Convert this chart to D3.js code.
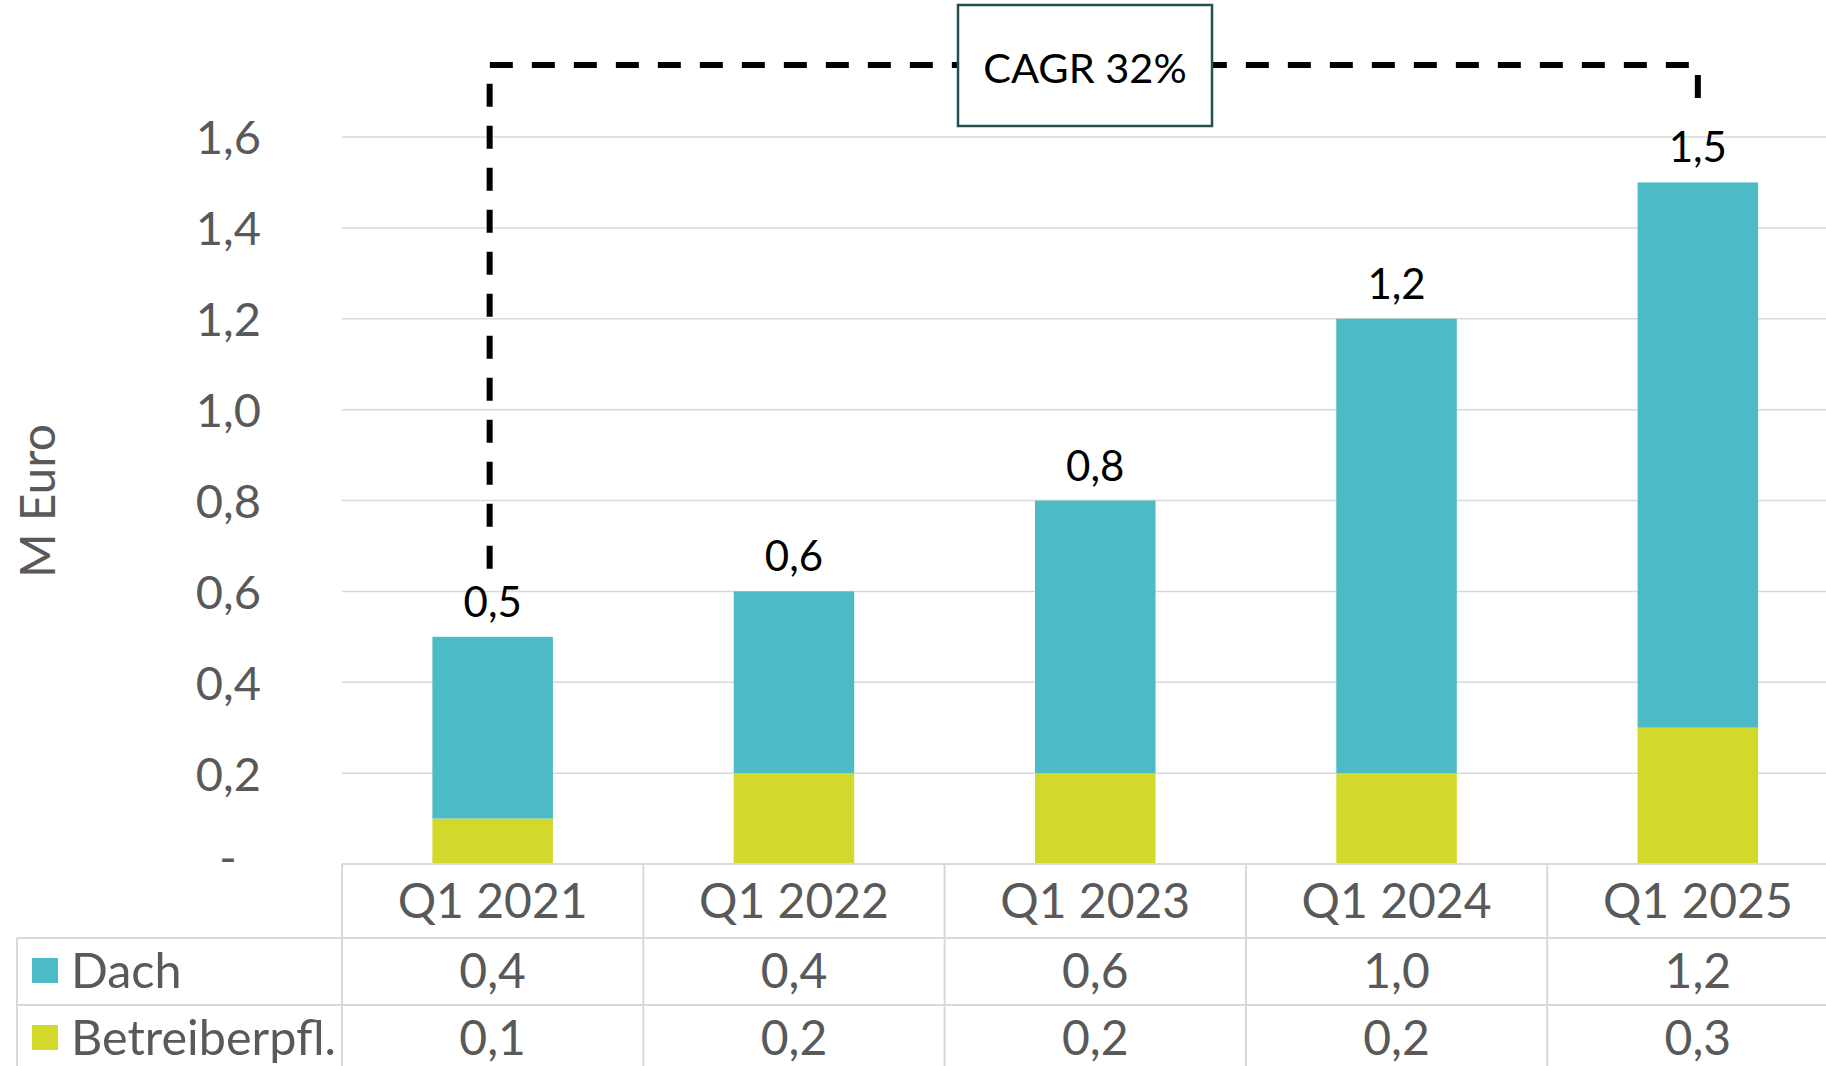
<!DOCTYPE html>
<html>
<head>
<meta charset="utf-8">
<script src="https://cdn.jsdelivr.net/npm/d3@7"></script>
<style>
  body { margin: 0; background: #fff; }
  svg { display: block; font-family: Lato, "Open Sans", sans-serif; }
</style>
</head>
<body>
<svg id="chart" width="1826" height="1066"></svg>
<script>
// Daten
const categories = ["Q1 2021", "Q1 2022", "Q1 2023", "Q1 2024", "Q1 2025"];
const dach = [0.4, 0.4, 0.6, 1.0, 1.2];
const betreiber = [0.1, 0.2, 0.2, 0.2, 0.3];
const totals = [0.5, 0.6, 0.8, 1.2, 1.5];
const seriesNames = ["Dach", "Betreiberpfl."];
const yTicks = [0, 0.2, 0.4, 0.6, 0.8, 1.0, 1.2, 1.4, 1.6];
const cagrLabel = "CAGR 32%";

const colors = { "Dach": "#4cbbc5", "Betreiberpfl.": "#d3d92b" };
const grey = "#595959";
const lineGrey = "#d9d9d9";

const svg = d3.select("#chart");

const left = 342, zeroY = 864;
const x = d3.scaleBand().domain(categories).range([left, 1848.5]).paddingInner(0.6).paddingOuter(0.3);
const y = d3.scaleLinear().domain([0, 1.6]).range([zeroY, 137]);

const loc = d3.formatLocale({ decimal: ",", thousands: ".", grouping: [3], currency: ["", " €"] });
const fmt = loc.format(".1f");

// gridlines
svg.append("g")
  .selectAll("line")
  .data(yTicks.filter((d) => d > 0))
  .enter()
  .append("line")
  .attr("x1", left)
  .attr("x2", 1826)
  .attr("y1", (d) => y(d))
  .attr("y2", (d) => y(d))
  .attr("stroke", lineGrey)
  .attr("stroke-width", 1.5);

// y axis labels
const yAxis = svg.append("g")
  .attr("transform", "translate(261,0)")
  .call(d3.axisLeft(y).tickValues(yTicks).tickSize(0).tickPadding(0).tickFormat((d) => (d === 0 ? "-" : fmt(d))));
yAxis.select(".domain").remove();
yAxis.selectAll("text")
  .attr("font-family", "Lato")
  .attr("font-size", 47)
  .attr("fill", grey)
  .attr("dy", "0.36em");
yAxis.selectAll(".tick")
  .filter((d) => d === 0)
  .select("text")
  .attr("x", -33)
  .attr("text-anchor", "middle")
  .attr("dy", "0.2em");

svg.append("text")
  .attr("transform", "translate(36,501) rotate(-90)")
  .attr("text-anchor", "middle")
  .attr("dominant-baseline", "central")
  .attr("font-size", 48)
  .attr("fill", grey)
  .text("M Euro");

// stacked bars
const rows = categories.map((c, i) => ({ cat: c, "Betreiberpfl.": betreiber[i], "Dach": dach[i] }));
const stack = d3.stack().keys(["Betreiberpfl.", "Dach"])(rows);

svg.append("g")
  .selectAll("g")
  .data(stack)
  .enter()
  .append("g")
  .attr("fill", (d) => colors[d.key])
  .selectAll("rect")
  .data((d) => d)
  .enter()
  .append("rect")
  .attr("x", (d) => x(d.data.cat))
  .attr("width", x.bandwidth())
  .attr("y", (d) => y(d[1]))
  .attr("height", (d) => y(d[0]) - y(d[1]));

// total labels
svg.append("g")
  .selectAll("text")
  .data(categories)
  .enter()
  .append("text")
  .attr("x", (d) => x(d) + x.bandwidth() / 2)
  .attr("y", (d, i) => y(totals[i]) - 20)
  .attr("text-anchor", "middle")
  .attr("font-size", 42)
  .attr("fill", "#000")
  .text((d, i) => fmt(totals[i]));

// CAGR bracket
const x0 = x(categories[0]) + x.bandwidth() / 2 - 3;
const x1 = x(categories[4]) + x.bandwidth() / 2;
const topY = 65;
svg.append("path")
  .attr("d", `M${x0},${y(totals[0]) - 68} L${x0},${topY} L${x1},${topY} L${x1},${y(totals[4]) - 80}`)
  .attr("fill", "none")
  .attr("stroke", "#000")
  .attr("stroke-width", 6)
  .attr("stroke-dasharray", "23,19");

svg.append("rect")
  .attr("x", 958)
  .attr("y", 5)
  .attr("width", 254)
  .attr("height", 121)
  .attr("fill", "#fff")
  .attr("stroke", "#24504f")
  .attr("stroke-width", 2.5);
svg.append("text")
  .attr("x", 1085)
  .attr("y", 67)
  .attr("text-anchor", "middle")
  .attr("dominant-baseline", "central")
  .attr("font-size", 41.5)
  .attr("fill", "#000")
  .text(cagrLabel);

// data table
const rowLines = [zeroY, 938, 1005, 1072];
const table = svg.append("g").attr("stroke", lineGrey).attr("stroke-width", 2);
table.append("line").attr("x1", left).attr("x2", 1826).attr("y1", zeroY).attr("y2", zeroY);
rowLines.slice(1).forEach((ly) => {
  table.append("line").attr("x1", 17).attr("x2", 1826).attr("y1", ly).attr("y2", ly);
});
table.append("line").attr("x1", 17).attr("x2", 17).attr("y1", 938).attr("y2", 1072);
categories.forEach((c) => {
  table.append("line").attr("x1", x(c) - x.step() * 0.3).attr("x2", x(c) - x.step() * 0.3).attr("y1", zeroY).attr("y2", 1072);
});

svg.append("g")
  .selectAll("text")
  .data(categories)
  .enter()
  .append("text")
  .attr("x", (d) => x(d) + x.bandwidth() / 2)
  .attr("y", 899)
  .attr("text-anchor", "middle")
  .attr("dominant-baseline", "central")
  .attr("font-size", 48)
  .attr("fill", grey)
  .text((d) => d);

const tableRows = [
  { name: seriesNames[0], values: dach, cy: 969 },
  { name: seriesNames[1], values: betreiber, cy: 1036 },
];
tableRows.forEach((r) => {
  const g = svg.append("g");
  g.append("rect")
    .attr("x", 32)
    .attr("y", r.cy - 11)
    .attr("width", 26)
    .attr("height", 25)
    .attr("fill", colors[r.name]);
  g.append("text")
    .attr("x", 71)
    .attr("y", r.cy)
    .attr("dominant-baseline", "central")
    .attr("font-size", 48.5)
    .attr("fill", grey)
    .text(r.name);
  g.selectAll(".val")
    .data(r.values)
    .enter()
    .append("text")
    .attr("x", (d, i) => x(categories[i]) + x.bandwidth() / 2)
    .attr("y", r.cy)
    .attr("text-anchor", "middle")
    .attr("dominant-baseline", "central")
    .attr("font-size", 48)
    .attr("fill", grey)
    .text((d) => fmt(d));
});
</script>
</body>
</html>
